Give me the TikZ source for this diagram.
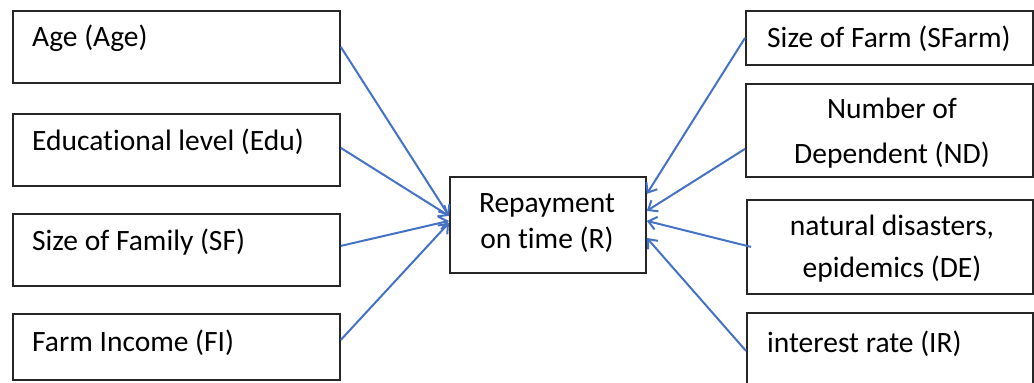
\documentclass[tikz,border=0pt]{standalone}
\usepackage{fontspec}
\setmainfont[Ligatures=NoCommon]{Carlito}
\usetikzlibrary{arrows.meta}
\definecolor{arrowblue}{RGB}{68,114,196}
\begin{document}
\begin{tikzpicture}[x=1pt,y=-1pt,
  box/.style={draw=black!85, line width=1.8pt, inner sep=0pt, anchor=north west},
  txt/.style={inner sep=0pt, font=\fontsize{29.5}{36}\selectfont},
  arr/.style={draw=arrowblue, line width=2pt, -{Straight Barb[length=8pt,width=13pt,line width=2pt]}}]
\useasboundingbox (0,0) rectangle (1034,383);
\clip (0,0) rectangle (1034,383);
% left boxes
\node[box, minimum width=327pt, minimum height=72pt] (age) at (12,10) {};
\node[box, minimum width=327pt, minimum height=72pt] (edu) at (12,113) {};
\node[box, minimum width=327pt, minimum height=72pt] (sf)  at (12,213) {};
\node[box, minimum width=327pt, minimum height=66pt] (fi)  at (12,313) {};
% centre
\node[box, minimum width=196pt, minimum height=96pt] (R) at (449,176) {};
% right boxes
\node[box, minimum width=287pt, minimum height=54pt] (sfarm) at (745,10) {};
\node[box, minimum width=287pt, minimum height=93pt] (nd) at (745,83) {};
\node[box, minimum width=286pt, minimum height=94pt] (de) at (746,199) {};
\node[box, minimum width=286pt, minimum height=76pt] (ir) at (746,312) {};
% texts
\node[txt, anchor=base west] (tage) at (32,46.5) {Age (Age)};
\node[txt, anchor=base west] (tedu) at (32,150.5) {Educational level (Edu)};
\node[txt, anchor=base west] (tsf)  at (32,250) {Size of Family (SF)};
\node[txt, anchor=base west] (tfi)  at (32,351.5) {Farm Income (FI)};
\node[txt, anchor=base] (tr1) at (547,212) {Repayment};
\node[txt, anchor=base] (tr2) at (547,248) {on time (R)};
\node[txt, anchor=base west] (tsfarm) at (767,47) {Size of Farm (SFarm)};
\node[txt, anchor=base] (tnd1) at (892,118) {Number of};
\node[txt, anchor=base] (tnd2) at (892,163) {Dependent (ND)};
\node[txt, anchor=base] (tde1) at (892,235) {natural disasters,};
\node[txt, anchor=base] (tde2) at (892,277) {epidemics (DE)};
\node[txt, anchor=base west] (tir) at (767,352) {interest rate (IR)};
% arrows
\draw[arr] (age.east) -- ([yshift=9pt]R.west);
\draw[arr] ([yshift=2pt]edu.east) -- ([yshift=9pt]R.west);
\draw[arr] ([yshift=4pt]sf.east) -- ([yshift=4pt]R.west);
\draw[arr] ([yshift=7pt]fi.east) -- ([yshift=2pt]R.west);
\draw[arr] (sfarm.west) -- ([yshift=31pt]R.east);
\draw[arr] ([yshift=-18.5pt]nd.west) -- ([yshift=14pt]R.east);
\draw[arr] ([xshift=5pt]de.west) -- ([yshift=4pt]R.east);
\draw[arr] (ir.west) -- ([yshift=-13pt]R.east);
\end{tikzpicture}
\end{document}
